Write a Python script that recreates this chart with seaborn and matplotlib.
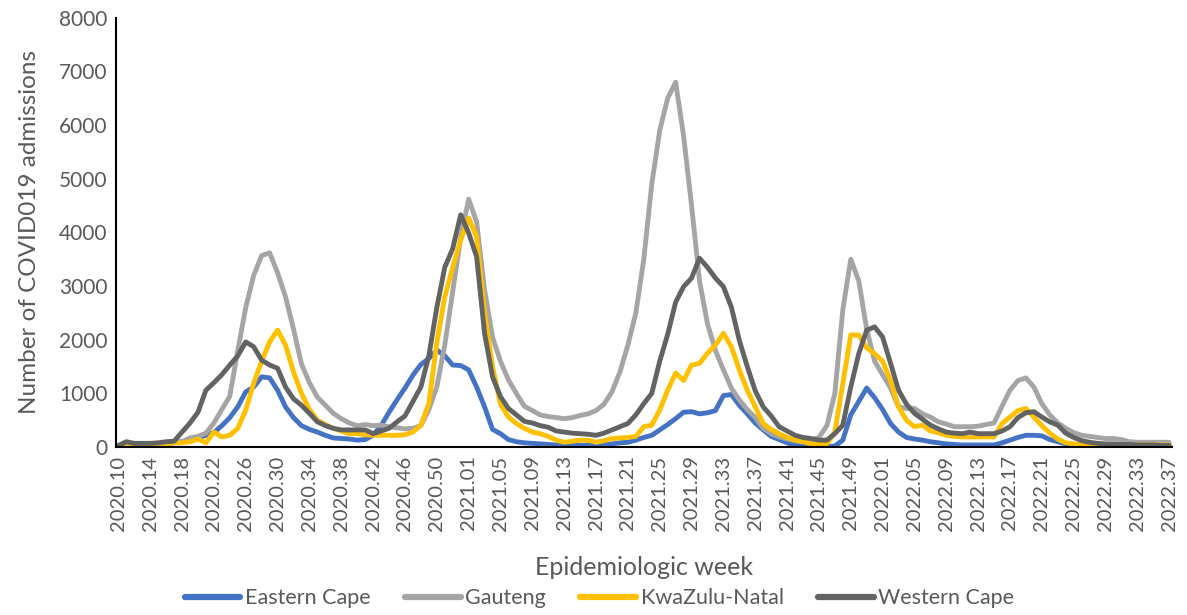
import numpy as np
import pandas as pd
import seaborn as sns
import matplotlib
matplotlib.use("Agg")
import matplotlib.pyplot as plt

# epidemiologic weeks: 2020.10-2020.53, 2021.01-2021.52, 2022.01-2022.37
weeks = ([f"2020.{w:02d}" for w in range(10, 54)]
         + [f"2021.{w:02d}" for w in range(1, 53)]
         + [f"2022.{w:02d}" for w in range(1, 38)])

eastern_cape = [
    0, 10, 10, 20, 30, 40, 60, 80, 100, 130, 170, 220, 270, 400, 550, 750,
    1030, 1120, 1310, 1290, 1060, 750, 550, 400, 330, 280, 220, 170, 160, 150,
    130, 140, 220, 400, 650, 880, 1100, 1340, 1540, 1650, 1810, 1700, 1530, 1520,
    1440, 1120, 750, 330, 250, 140, 100, 80, 70, 60, 50, 40, 40, 40, 30, 40,
    40, 50, 60, 80, 90, 130, 180, 220, 320, 420, 530, 650, 660, 620, 640, 680,
    960, 980, 780, 620, 450, 320, 200, 140, 80, 40, 20, 10, 10, 10, 20, 130,
    600, 850, 1100, 920, 700, 440, 280, 180, 150, 130, 100, 80, 60, 50, 40, 40,
    40, 40, 40, 80, 130, 180, 220, 220, 210, 140, 100, 60, 40, 30, 20, 20,
    10, 10, 10, 10, 5, 5, 5, 5, 5,
]
gauteng = [
    30, 40, 50, 50, 60, 70, 80, 90, 100, 170, 200, 260, 450, 700, 950, 1800,
    2600, 3200, 3570, 3620, 3250, 2800, 2200, 1550, 1200, 930, 780, 630, 530, 450,
    400, 420, 400, 410, 380, 360, 340, 350, 400, 700, 1120, 1900, 2900, 3900,
    4620, 4200, 2930, 2050, 1600, 1250, 1000, 760, 680, 600, 570, 550, 530, 550,
    590, 620, 680, 800, 1030, 1400, 1900, 2500, 3500, 4900, 5900, 6500, 6800, 5800,
    4500, 3100, 2300, 1800, 1440, 1100, 880, 700, 550, 350, 250, 190, 150, 120,
    100, 120, 180, 400, 1000, 2560, 3500, 3100, 2200, 1600, 1350, 1100, 750, 720,
    720, 620, 560, 470, 430, 380, 380, 380, 390, 420, 450, 760, 1060, 1240,
    1290, 1120, 810, 600, 450, 350, 270, 220, 200, 180, 160, 160, 140, 100,
    90, 90, 90, 90, 90,
]
kwazulu_natal = [
    0, 10, 20, 30, 40, 50, 60, 80, 80, 100, 150, 80, 280, 190, 220, 350,
    690, 1190, 1600, 1960, 2180, 1900, 1400, 1000, 700, 500, 420, 350, 300, 250,
    250, 230, 220, 220, 220, 220, 230, 280, 410, 810, 1940, 2800, 3350, 3860,
    4270, 3920, 2500, 1500, 800, 560, 440, 350, 280, 250, 200, 130, 90, 110,
    130, 130, 90, 120, 160, 170, 180, 200, 380, 410, 690, 1060, 1380, 1240,
    1530, 1560, 1750, 1900, 2120, 1870, 1440, 1060, 750, 440, 330, 250, 180, 130,
    100, 60, 60, 60, 280, 1180, 2090, 2090, 1850, 1740, 1600, 1240, 750, 500,
    380, 410, 300, 270, 220, 200, 190, 190, 190, 190, 190, 440, 560, 680,
    720, 560, 400, 260, 150, 80, 60, 50, 40, 40, 40, 40, 40, 40,
    40, 40, 40, 40, 40,
]
western_cape = [
    30, 100, 70, 70, 70, 80, 100, 110, 280, 450, 650, 1060, 1200, 1350, 1530, 1700,
    1960, 1870, 1620, 1530, 1470, 1120, 900, 780, 630, 470, 400, 350, 320, 320,
    320, 320, 250, 300, 350, 470, 580, 850, 1120, 1700, 2600, 3350, 3700, 4330,
    3990, 3550, 2120, 1310, 940, 720, 600, 480, 450, 400, 370, 300, 280, 260,
    250, 240, 220, 260, 320, 380, 440, 600, 810, 1000, 1600, 2100, 2700, 2990,
    3150, 3520, 3350, 3150, 2990, 2610, 1990, 1500, 1050, 750, 580, 380, 300, 220,
    180, 160, 130, 130, 250, 410, 1120, 1740, 2180, 2240, 2050, 1560, 1060, 800,
    630, 520, 410, 340, 280, 260, 250, 280, 250, 250, 250, 300, 380, 550,
    640, 660, 560, 470, 410, 260, 180, 120, 90, 70, 60, 60, 50, 50,
    40, 40, 40, 30, 30,
]

provinces = ["Eastern Cape", "Gauteng", "KwaZulu-Natal", "Western Cape"]
colors = ["#4472C4", "#A5A5A5", "#FFC000", "#636363"]
series = [eastern_cape, gauteng, kwazulu_natal, western_cape]

frames = []
for name, vals in zip(provinces, series):
    frames.append(pd.DataFrame({"idx": np.arange(len(weeks)), "week": weeks,
                                "province": name, "admissions": vals}))
df = pd.concat(frames, ignore_index=True)

sns.set_theme(style="white")
plt.rcParams["font.family"] = ["Lato", "DejaVu Sans"]
text_color = "#595959"

fig = plt.figure(figsize=(11.87, 6.15), dpi=100)
ax = fig.add_axes([0.0977, 0.273, 0.890, 0.698])

sns.lineplot(data=df, x="idx", y="admissions", hue="province",
             hue_order=provinces, palette=colors, linewidth=3.5,
             ax=ax, legend=False, estimator=None)

ax.set_xlim(-0.3, len(weeks) - 0.6)
ax.set_ylim(0, 8000)
ax.set_yticks(range(0, 8001, 1000))
ax.set_yticklabels([str(v) for v in range(0, 8001, 1000)], fontsize=15, color=text_color)
tick_pos = list(range(0, len(weeks), 4))
ax.set_xticks(tick_pos)
ax.set_xticklabels([weeks[i] for i in tick_pos], rotation=90, fontsize=14.5, color=text_color)
ax.tick_params(axis="both", length=0, pad=6)

for side in ["top", "right"]:
    ax.spines[side].set_visible(False)
for side in ["left", "bottom"]:
    ax.spines[side].set_color("black")
    ax.spines[side].set_linewidth(1.5)

ax.set_xlabel("Epidemiologic week", fontsize=18, color=text_color, labelpad=18)
ax.set_ylabel("Number of COVID019 admissions", fontsize=17.5, color=text_color, labelpad=14)
ax.grid(False)

handles = [plt.Line2D([], [], color=c, linewidth=4.5) for c in colors]
fig.legend(handles, provinces, loc="center", bbox_to_anchor=(0.505, 0.027),
           ncol=4, frameon=False, fontsize=15.5, handlelength=2.6, handletextpad=0.2,
           columnspacing=1.6, labelcolor=text_color)

fig.savefig("out.png", dpi=100)
